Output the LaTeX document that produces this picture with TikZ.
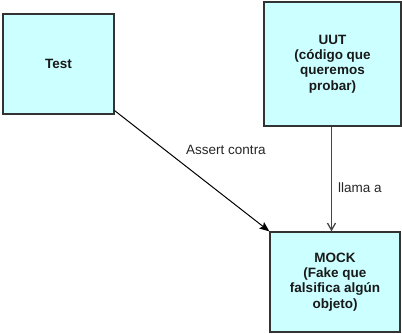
\documentclass[tikz,border=0pt]{standalone}
\usepackage{fontspec}
\setmainfont{Liberation Sans}
\usetikzlibrary{arrows.meta}
\definecolor{boxfill}{HTML}{CCFFFF}
\definecolor{boxline}{HTML}{333333}
\definecolor{grayline}{HTML}{444444}
\begin{document}
\begin{tikzpicture}[x=1pt,y=-1pt,
  box/.style={draw=boxline, fill=boxfill, line width=1.2pt, align=center,
    font=\fontsize{13.5}{15.2}\selectfont\bfseries, text=black!90, inner sep=0pt},
  lbl/.style={font=\fontsize{13.5}{15.2}\selectfont, text=black!85, inner sep=0pt}]
\useasboundingbox (0,0) rectangle (402,334);
\node[box, minimum width=111pt, minimum height=100pt] (test) at (58.5,64) {Test};
\node[box, minimum width=137pt, minimum height=124pt] (uut) at (332.5,64) {UUT\\(código que\\queremos\\probar)};
\node[box, minimum width=130pt, minimum height=100pt] (mock) at (335,282) {MOCK\\(Fake que\\falsifica algún\\objeto)};
\draw[line width=1pt, -{Stealth[length=10pt,width=8pt,inset=2pt]}] ([yshift=4pt]test.south east) -- (mock.north west);
\draw[grayline, line width=1.3pt, -{Straight Barb[length=7pt,width=8pt]}] ([xshift=-1pt]uut.south) -- ([xshift=-1pt]uut.south |- mock.north);
\node[lbl] (assert) at (226,150) {Assert contra};
\node[lbl] (llama) at (360,188) {llama a};
\end{tikzpicture}
\end{document}
